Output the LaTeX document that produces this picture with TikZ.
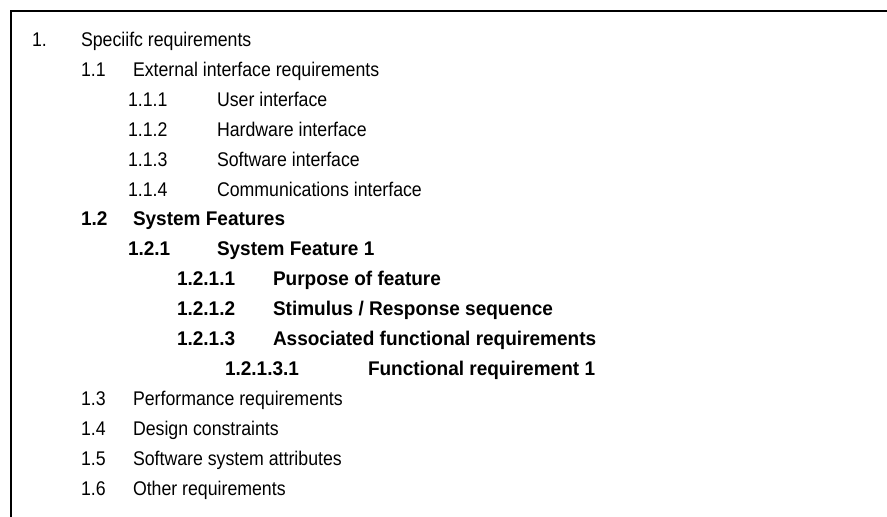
\documentclass[tikz,border=0pt]{standalone}
\usepackage{fontspec}
\setmainfont{Liberation Sans}
\newfontfamily\regfont{Liberation Sans}[FakeStretch=0.895]
\newfontfamily\boldfont{Liberation Sans}[FakeStretch=0.96]
\begin{document}
\begin{tikzpicture}[x=1pt,y=1pt,
  entry/.style={anchor=base west, inner sep=0pt, outer sep=0pt, text=black},
  reg/.style={entry, font=\regfont\fontsize{19.8}{23}\selectfont},
  bld/.style={entry, font=\boldfont\bfseries\fontsize{19.8}{23}\selectfont},
  frameline/.style={line width=2pt, black, line cap=butt, line join=miter}]
\useasboundingbox (0,0) rectangle (887,-517);

% open frame: top edge and left edge only
\coordinate (fbl) at (11,-517);
\coordinate (ftl) at (11,-11);
\coordinate (ftr) at (887,-11);
\draw[frameline] (fbl) -- (ftl) -- (ftr);

% level 0
\node[reg] (n1)  at (32,-46.5)  {1.};
\node[reg] (t1)  at (81,-46.5)  {Speciifc requirements};
% 1.1
\node[reg] (n11) at (81,-76.4)  {1.1};
\node[reg] (t11) at (133,-76.4) {External interface requirements};
\node[reg] (n111) at (128,-106.3) {1.1.1};
\node[reg] (t111) at (217,-106.3) {User interface};
\node[reg] (n112) at (128,-136.2) {1.1.2};
\node[reg] (t112) at (217,-136.2) {Hardware interface};
\node[reg] (n113) at (128,-166.1) {1.1.3};
\node[reg] (t113) at (217,-166.1) {Software interface};
\node[reg] (n114) at (128,-196) {1.1.4};
\node[reg] (t114) at (217,-196) {Communications interface};
% 1.2 (bold block)
\node[bld] (n12) at (81,-225.9)  {1.2};
\node[bld] (t12) at (133,-225.9) {System Features};
\node[bld] (n121) at (128,-255.8) {1.2.1};
\node[bld] (t121) at (217,-255.8) {System Feature 1};
\node[bld] (n1211) at (177,-285.7) {1.2.1.1};
\node[bld] (t1211) at (273,-285.7) {Purpose of feature};
\node[bld] (n1212) at (177,-315.6) {1.2.1.2};
\node[bld] (t1212) at (273,-315.6) {Stimulus / Response sequence};
\node[bld] (n1213) at (177,-345.5) {1.2.1.3};
\node[bld] (t1213) at (273,-345.5) {Associated functional requirements};
\node[bld] (n12131) at (225,-375.4) {1.2.1.3.1};
\node[bld] (t12131) at (368,-375.4) {Functional requirement 1};
% 1.3 - 1.6
\node[reg] (n13) at (81,-405.3)  {1.3};
\node[reg] (t13) at (133,-405.3) {Performance requirements};
\node[reg] (n14) at (81,-435.2)  {1.4};
\node[reg] (t14) at (133,-435.2) {Design constraints};
\node[reg] (n15) at (81,-465.1)  {1.5};
\node[reg] (t15) at (133,-465.1) {Software system attributes};
\node[reg] (n16) at (81,-495)  {1.6};
\node[reg] (t16) at (133,-495) {Other requirements};
\end{tikzpicture}
\end{document}
